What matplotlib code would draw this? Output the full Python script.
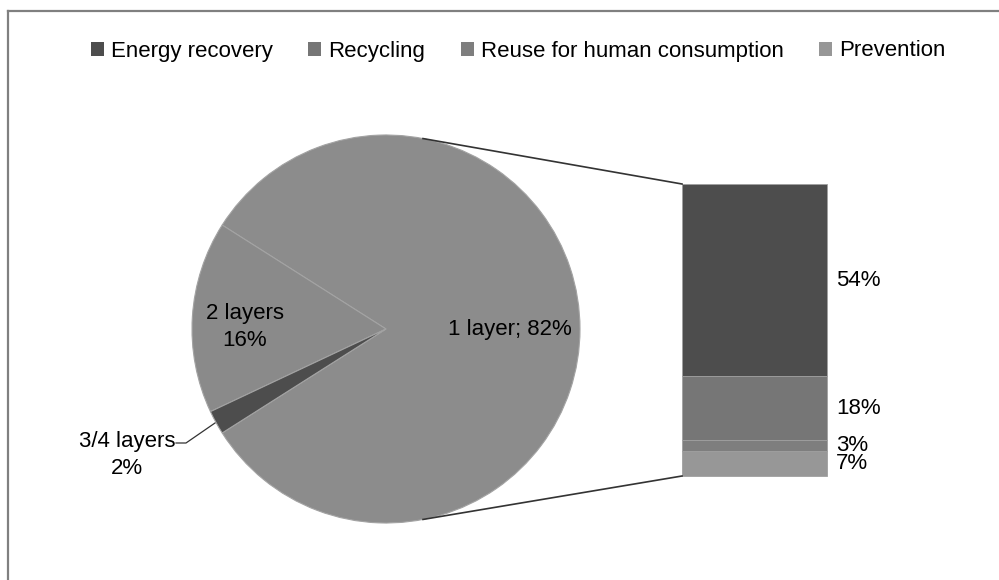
import matplotlib.pyplot as plt
from matplotlib.patches import Patch
import numpy as np

plt.rcParams['font.family'] = ['Liberation Sans', 'DejaVu Sans']

# pie data
pie_labels = ["1 layer", "2 layers", "3/4 layers"]
pie_values = [82, 16, 2]
pie_colors = ["#8c8c8c", "#8a8a8a", "#4d4d4d"]

# bar (split of "1 layer"), bottom to top
bar_labels = ["Prevention", "Reuse for human consumption", "Recycling", "Energy recovery"]
bar_values = [7, 3, 18, 54]
bar_colors = ["#979797", "#7e7e7e", "#767676", "#4d4d4d"]

legend_order = ["Energy recovery", "Recycling", "Reuse for human consumption", "Prevention"]

W, H = 999, 580
fig = plt.figure(figsize=(W / 100, H / 100), dpi=100)
ax = fig.add_axes([0, 0, 1, 1])

# pie, 1 layer slice faces right
cx, cy, r = 386, H - 329, 194
start = -pie_values[0] / sum(pie_values) * 180
wedges, _ = ax.pie(pie_values, colors=pie_colors, startangle=start, counterclock=True,
                   center=(cx, cy), radius=r,
                   wedgeprops=dict(edgecolor="#a3a3a3", linewidth=0.8))

ax.text(cx + 124, cy, "{}; {}%".format(pie_labels[0], pie_values[0]),
        fontsize=16, ha="center", va="center")
ax.text(cx - 141, cy + 2, "{}\n{}%".format(pie_labels[1], pie_values[1]),
        fontsize=16, ha="center", va="center", linespacing=1.4)
ax.text(127, H - 455, "{}\n{}%".format(pie_labels[2], pie_values[2]),
        fontsize=16, ha="center", va="center", linespacing=1.35)
ax.plot([176, 186, 215], [H - 443, H - 443, H - 423], color="#333333", lw=0.9)

# stacked bar
bx0, bx1 = 682, 827
btop, bbot = H - 184, H - 476
scale = (btop - bbot) / sum(bar_values)
bottom = bbot
for lab, v, c in zip(bar_labels, bar_values, bar_colors):
    ax.bar((bx0 + bx1) / 2, v * scale, width=bx1 - bx0, bottom=bottom, color=c,
           edgecolor="#a0a0a0", linewidth=0.6)
    ax.text(836, bottom + v * scale / 2, "{}%".format(v), fontsize=16,
            ha="left", va="center")
    bottom += v * scale

# connector lines
ang = np.deg2rad(79)
ax.plot([cx + r * np.cos(ang), bx0], [cy + r * np.sin(ang), btop], color="#333333", lw=1.2)
ax.plot([cx + r * np.cos(ang), bx0], [cy - r * np.sin(ang), bbot], color="#333333", lw=1.2)

ax.set_xlim(0, W)
ax.set_ylim(0, H)
ax.axis("off")

# outer frame (left and top only visible)
ax.plot([8, 8], [0, H - 11], color="#808080", lw=1.6, clip_on=False)
ax.plot([8, W], [H - 11, H - 11], color="#808080", lw=1.6, clip_on=False)

# legend
col = dict(zip(bar_labels, bar_colors))
handles = [Patch(facecolor=col[l], label=l) for l in legend_order]
fig.legend(handles=handles, loc="center", bbox_to_anchor=(518 / W, 1 - 51 / H), ncol=4,
           frameon=False, fontsize=16, handlelength=0.6, handleheight=0.6,
           handletextpad=0.3, columnspacing=1.6)

fig.savefig("out.png", dpi=100)
